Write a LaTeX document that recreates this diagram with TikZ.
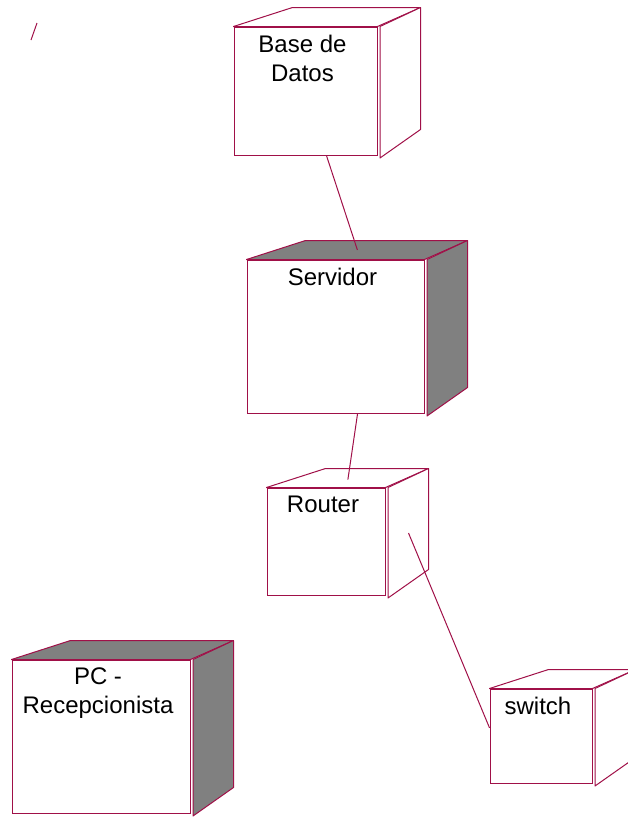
\documentclass[tikz,border=0pt]{standalone}
\usepackage{fontspec}
\setmainfont{Liberation Sans}
\usetikzlibrary{positioning,calc}
\definecolor{rose}{RGB}{160,16,72}
\definecolor{shade}{RGB}{128,128,128}

\begin{document}
\begin{tikzpicture}[
        x=1pt,
        y=-1pt,
        front/.style={
            rectangle,
            draw=rose,
            fill=white,
            line width=1pt,
            inner sep=0pt
        },
        title/.style={
            anchor=north,
            align=center,
            inner sep=0pt,
            xshift=-3pt,
            yshift=-8pt,
            font=\fontsize{24}{29}\selectfont
        },
        face/.style={draw=rose, line width=1pt, line join=round},
        line/.style={draw=rose, line width=1pt}
    ]
    \useasboundingbox (0,0) rectangle (628,817);
    \clip (0,0) rectangle (628,817);

    % FRONT FACES
    \node[front, minimum width=143pt, minimum height=128pt,
        label={[title]north:Base de\\Datos}] (bd) at (305.5,91) {};
    \node[front, minimum width=177pt, minimum height=153pt,
        label={[title]north:Servidor}] (srv) at (335.5,336.5) {};
    \node[front, minimum width=118pt, minimum height=107pt,
        label={[title]north:Router}] (rt) at (326,541.5) {};
    \node[front, minimum width=102pt, minimum height=94pt,
        label={[title]north:switch}] (sw) at (541,736) {};
    \node[front, minimum width=178pt, minimum height=153pt,
        label={[title]north:PC -\\Recepcionista}] (pc) at (101,736.5) {};

    % DEPTH FACES (top and side)
    \foreach \n/\f in {bd/white, srv/shade, rt/white, sw/white, pc/shade} {
        \draw[face, fill=\f] (\n.north west) -- ++(59,-19)
            -- ($(\n.north east)+(43,-19)$) -- (\n.north east) -- cycle;
        \draw[face, fill=\f] ($(\n.north east)+(2.5,0)$) -- ++(40.5,-19)
            -- ($(\n.south east)+(43,-26)$) -- ($(\n.south east)+(2.5,2.5)$) -- cycle;
    }

    % CONNECTIONS
    \coordinate (rtport) at ([shift={(23,-8.5)}]rt.east);
    \draw[line, shorten >=10pt] (bd.-72) -- (srv.72);
    \draw[line, shorten >=8pt] (srv.-74) -- (rt.69);
    \draw[line] (rtport) -- (sw.171);

    % stray mark
    \draw[line] (31,40) -- (37,23);

\end{tikzpicture}
\end{document}
